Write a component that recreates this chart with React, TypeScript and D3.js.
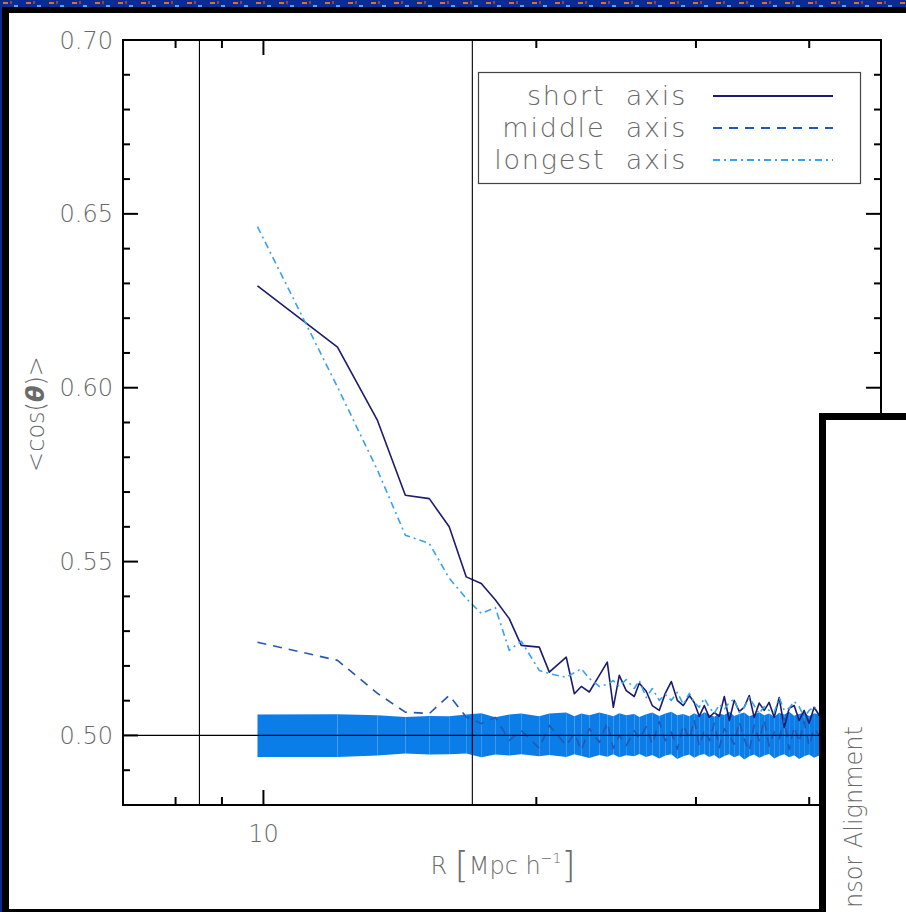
import React from 'react';
import * as d3 from 'd3';

// R bins [Mpc/h]
const R = [9.85, 12.07, 13.36, 14.34, 15.24, 16.03, 16.74, 17.39, 18.02, 18.67, 19.25, 20.15, 20.67, 21.58, 22.03, 22.42, 22.88, 23.47, 23.95, 24.32, 24.69, 25.13, 25.65, 25.98, 26.44, 26.85, 27.33, 27.75, 28.18, 28.61, 29.05, 29.50, 29.87, 30.25, 30.64, 31.03, 31.43, 31.83, 32.24, 32.65, 33.06, 33.49, 33.91, 34.35, 34.78, 35.23, 35.68, 36.13, 36.60, 37.06, 37.54, 38.01, 38.50, 38.99, 39.49, 39.99, 40.50, 41.02, 42.10];

const shortAxis = [0.6293, 0.6117, 0.5906, 0.5691, 0.5681, 0.5600, 0.5456, 0.5437, 0.5390, 0.5336, 0.5259, 0.5254, 0.5182, 0.5225, 0.5120, 0.5141, 0.5125, 0.5173, 0.5211, 0.5081, 0.5173, 0.5129, 0.5112, 0.5150,
  0.5127, 0.5086, 0.5072, 0.5121, 0.5155, 0.5101, 0.5086, 0.5115,
  0.5095, 0.5055, 0.5086, 0.5052, 0.5066, 0.5055, 0.5112, 0.5043, 0.5101, 0.5069, 0.5081, 0.5115, 0.5052, 0.5093, 0.5072, 0.5095, 0.5052, 0.5109, 0.5023, 0.5078, 0.5086, 0.5043, 0.5072, 0.5035, 0.5081, 0.5058, 0.5066];

const middleAxis = [0.5268, 0.5216, 0.5121, 0.5067, 0.5063, 0.5115, 0.5053, 0.5034, 0.5052, 0.4986, 0.5014, 0.4963, 0.5029, 0.4971, 0.5006, 0.4957, 0.5020, 0.4980, 0.5037, 0.4963, 0.5000, 0.4971, 0.5014, 0.4991,
  0.5025, 0.4975, 0.5040, 0.4985, 0.5010, 0.4960, 0.5030, 0.4990,
  0.5045, 0.4970, 0.5015, 0.4985, 0.5035, 0.4965, 0.5020, 0.5000, 0.4975, 0.5040, 0.4990, 0.4955, 0.5030, 0.4985, 0.5045, 0.4970, 0.5010, 0.4990, 0.5050, 0.4960, 0.5025, 0.4980, 0.5040, 0.4970, 0.5020, 0.5000, 0.4985];

const longestAxis = [0.6463, 0.6002, 0.5763, 0.5576, 0.5552, 0.5452, 0.5394, 0.5351, 0.5368, 0.5245, 0.5271, 0.5187, 0.5178, 0.5167, 0.5181, 0.5192, 0.5164, 0.5141, 0.5147, 0.5158, 0.5141, 0.5161, 0.5135, 0.5158,
  0.5109, 0.5135, 0.5101, 0.5118, 0.5101, 0.5124, 0.5089, 0.5121,
  0.5095, 0.5081, 0.5107, 0.5081, 0.5063, 0.5089, 0.5075, 0.5095, 0.5104, 0.5066, 0.5081, 0.5109, 0.5086, 0.5063, 0.5083, 0.5072, 0.5066, 0.5109, 0.5072, 0.5078, 0.5098, 0.5083, 0.5052, 0.5072, 0.5083, 0.5066, 0.5078];

const bandUpper = [0.5060, 0.5061, 0.5058, 0.5053, 0.5056, 0.5055, 0.5060, 0.5064, 0.5052, 0.5060, 0.5063, 0.5055, 0.5063, 0.5066, 0.5055, 0.5063, 0.5058, 0.5066, 0.5060, 0.5055, 0.5064, 0.5058, 0.5062, 0.5053,
  0.5061, 0.5066, 0.5056, 0.5063, 0.5068, 0.5058, 0.5062, 0.5055,
  0.5064, 0.5057, 0.5067, 0.5060, 0.5054, 0.5063, 0.5059, 0.5068, 0.5056, 0.5062, 0.5066, 0.5055, 0.5061, 0.5067, 0.5058, 0.5063, 0.5054, 0.5065, 0.5060, 0.5068, 0.5057, 0.5062, 0.5066, 0.5055, 0.5064, 0.5060, 0.5062];

const bandLower = [0.4938, 0.4938, 0.4942, 0.4948, 0.4945, 0.4946, 0.4948, 0.4937, 0.4945, 0.4942, 0.4946, 0.4940, 0.4944, 0.4938, 0.4946, 0.4941, 0.4935, 0.4944, 0.4939, 0.4946, 0.4937, 0.4943, 0.4940, 0.4947,
  0.4938, 0.4944, 0.4934, 0.4942, 0.4946, 0.4932, 0.4940, 0.4945,
  0.4936, 0.4943, 0.4947, 0.4938, 0.4944, 0.4933, 0.4941, 0.4946, 0.4937, 0.4943, 0.4931, 0.4940, 0.4945, 0.4936, 0.4942, 0.4947, 0.4934, 0.4941, 0.4946, 0.4937, 0.4943, 0.4932, 0.4940, 0.4945, 0.4936, 0.4942, 0.4939];

const seriesNames = ['short axis', 'middle axis', 'longest axis'];
const xDomain = [7, 48];
const yDomain = [0.48, 0.70];
const yMajorTicks = [0.50, 0.55, 0.60, 0.65, 0.70];
const yTickLabels = ['0.50', '0.55', '0.60', '0.65', '0.70'];
const yMinorTicks = [0.48, 0.49, 0.51, 0.52, 0.53, 0.54, 0.56, 0.57, 0.58, 0.59, 0.61, 0.62, 0.63, 0.64, 0.66, 0.67, 0.68, 0.69];
const xMajorTicks = [10];
const xTickLabels = ['10'];
const xMinorTicks = [8, 9, 20, 30, 40];
const refR = [8.5, 17.0];
const refValue = 0.5;
const sidePanelTitle = 'nsor Alignment';

const FONT = '"DejaVu Sans", "Liberation Sans", sans-serif';
const TXT = '#6a6a6a';

export default function App() {
  const L = 123, Rr = 881, T = 40, B = 805;
  const x = d3.scaleLog().domain(xDomain).range([L, Rr]);
  const y = d3.scaleLinear().domain(yDomain).range([B, T]);
  const n = Math.min(R.length, shortAxis.length, middleAxis.length, longestAxis.length, bandUpper.length, bandLower.length);
  const idx = d3.range(n);

  const line = (vals: number[]) =>
    d3.line<number>().x((i) => x(R[i])).y((i) => y(vals[i]))(idx) || '';

  const area = d3.area<number>().x((i) => x(R[i])).y0((i) => y(bandLower[i])).y1((i) => y(bandUpper[i]));
  const segs = d3.range(n - 1).map((i) => area([i, i + 1]) || '');

  const styles = [
    { color: '#1b1b6f', dash: undefined as string | undefined },
    { color: '#2558b3', dash: '9,7' },
    { color: '#38a3ea', dash: '7,4,2,4' },
  ];
  const seriesVals = [shortAxis, middleAxis, longestAxis];

  const legendY = [96, 128, 160];

  return (
    <svg width={906} height={912} style={{ position: 'absolute', left: 0, top: 0, display: 'block' }} xmlns="http://www.w3.org/2000/svg">
      <defs>
        <pattern id="noise" width="23" height="11" patternUnits="userSpaceOnUse">
          <rect width="23" height="11" fill="#0b2c94" />
          <rect x="3" y="2" width="5" height="2" fill="#e2701e" />
          <rect x="14" y="5" width="4" height="2" fill="#4aa8f0" />
          <rect x="10" y="1" width="2" height="3" fill="#b8381a" />
        </pattern>
        <clipPath id="plotclip">
          <rect x={L} y={T} width={Rr - L} height={B - T} />
        </clipPath>
      </defs>
      <rect x={0} y={0} width={906} height={912} fill="url(#noise)" />
      <rect x={2} y={7} width={904} height={905} fill="#000" />
      <rect x={9} y={13} width={897} height={896} fill="#fff" />

      <g clipPath="url(#plotclip)">
        {segs.map((d, i) => (
          <path key={i} d={d} fill="#0a7de8" stroke="none" />
        ))}
        {seriesVals.map((vals, k) => (
          <path key={k} d={line(vals)} fill="none" stroke={styles[k].color} strokeWidth={1.6} strokeDasharray={styles[k].dash} strokeLinejoin="round" />
        ))}
      </g>

      {/* reference lines */}
      <line x1={L} x2={Rr} y1={y(refValue)} y2={y(refValue)} stroke="#000" strokeWidth={1.2} />
      {refR.map((r, i) => (
        <line key={i} x1={x(r)} x2={x(r)} y1={T} y2={B} stroke="#000" strokeWidth={1.1} />
      ))}

      {/* legend */}
      <rect x={478.5} y={72.5} width={382} height={111} fill="none" stroke="#444" strokeWidth={1.2} />
      {seriesNames.map((name, k) => (
        <g key={k}>
          <text x={687} y={legendY[k] + 9} textAnchor="end" fontFamily={FONT} fontWeight={200} fontSize={27} letterSpacing={1.8} wordSpacing={10} fill={TXT}>{name}</text>
          <line x1={713} x2={833} y1={legendY[k]} y2={legendY[k]} stroke={styles[k].color} strokeWidth={2} strokeDasharray={styles[k].dash} />
        </g>
      ))}

      {/* axes frame */}
      <rect x={L} y={T} width={Rr - L} height={B - T} fill="none" stroke="#000" strokeWidth={2} />
      {yMajorTicks.map((v, i) => (
        <g key={'ym' + i}>
          <line x1={L} x2={L + 15} y1={y(v)} y2={y(v)} stroke="#000" strokeWidth={2} />
          <line x1={Rr} x2={Rr - 15} y1={y(v)} y2={y(v)} stroke="#000" strokeWidth={2} />
          <text x={113} y={y(v) + 8.5} textAnchor="end" fontFamily={FONT} fontWeight={200} fontSize={24} fill={TXT}>{yTickLabels[i]}</text>
        </g>
      ))}
      {yMinorTicks.map((v, i) => (
        <g key={'yn' + i}>
          <line x1={L} x2={L + 7} y1={y(v)} y2={y(v)} stroke="#000" strokeWidth={2} />
          <line x1={Rr} x2={Rr - 7} y1={y(v)} y2={y(v)} stroke="#000" strokeWidth={2} />
        </g>
      ))}
      {xMajorTicks.map((v, i) => (
        <g key={'xm' + i}>
          <line x1={x(v)} x2={x(v)} y1={B} y2={B - 15} stroke="#000" strokeWidth={2} />
          <line x1={x(v)} x2={x(v)} y1={T} y2={T + 15} stroke="#000" strokeWidth={2} />
          <text x={x(v)} y={842} textAnchor="middle" fontFamily={FONT} fontWeight={200} fontSize={24} fill={TXT}>{xTickLabels[i]}</text>
        </g>
      ))}
      {xMinorTicks.map((v, i) => (
        <g key={'xn' + i}>
          <line x1={x(v)} x2={x(v)} y1={B} y2={B - 8} stroke="#000" strokeWidth={2} />
          <line x1={x(v)} x2={x(v)} y1={T} y2={T + 8} stroke="#000" strokeWidth={2} />
        </g>
      ))}

      {/* axis titles */}
      <text x={503} y={874} textAnchor="middle" fontFamily={FONT} fontWeight={200} fontSize={24} fill={TXT}>
        <tspan>R </tspan>
        <tspan fontSize={36} dy={3}>[</tspan>
        <tspan dy={-3}>Mpc h</tspan>
        <tspan fontSize={14} dy={-11}>−1</tspan>
        <tspan fontSize={36} dy={14}>]</tspan>
      </text>
      <text transform="translate(44,414) rotate(-90)" textAnchor="middle" fontFamily={FONT} fontWeight={200} fontSize={24} fill={TXT}>
        {'<cos('}
        <tspan fontStyle="italic" fontWeight={700}>θ</tspan>
        {')>'}
      </text>

      {/* overlapping panel */}
      <rect x={822.5} y={416.5} width={200} height={600} fill="#fff" stroke="#000" strokeWidth={7} />
      <text transform="translate(862,726) rotate(-90)" textAnchor="end" fontFamily={FONT} fontWeight={200} fontSize={24} fill={TXT}>{sidePanelTitle}</text>
    </svg>
  );
}
